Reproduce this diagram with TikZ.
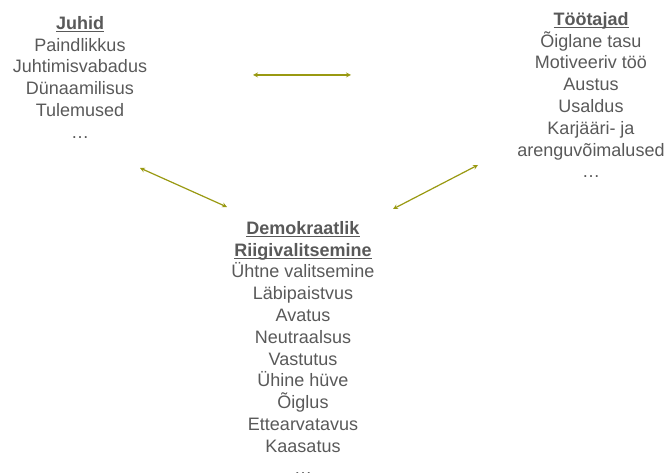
\documentclass[tikz,border=0pt]{standalone}
\usepackage{fontspec}
\setmainfont{Liberation Sans}
\usepackage{tikz}
\usetikzlibrary{arrows,positioning}
\definecolor{dgtext}{RGB}{89,89,89}
\definecolor{dgolive}{RGB}{153,153,17}
\newcommand{\grouptitle}[1]{\setbox0\hbox{\textbf{#1}}\rlap{\rule[-3.2pt]{\wd0}{1.3pt}}\box0}
\tikzstyle{group} = [align=center, inner sep=0pt, anchor=north, text=dgtext, font=\fontsize{18}{21.8}\selectfont]
\tikzstyle{link} = [line width=1.2pt,<->,>=stealth,color=dgolive]

\begin{document}
\begin{tikzpicture}[x=1pt,y=-1pt]
\useasboundingbox (0,0) rectangle (667,473);

% Juhid
\node (juhid) [group] at (80,16) {\grouptitle{Juhid}\\Paindlikkus\\Juhtimisvabadus\\Dünaamilisus\\Tulemused\\…};

% Töötajad
\node (tootajad) [group] at (591,12) {\grouptitle{Töötajad}\\Õiglane tasu\\Motiveeriv töö\\Austus\\Usaldus\\Karjääri- ja\\arenguvõimalused\\…};

% Demokraatlik riigivalitsemine
\node (riik) [group] at (303,221) {\grouptitle{Demokraatlik}\\\grouptitle{Riigivalitsemine}\\Ühtne valitsemine\\Läbipaistvus\\Avatus\\Neutraalsus\\Vastutus\\Ühine hüve\\Õiglus\\Ettearvatavus\\Kaasatus\\…};

% Arrow ends
\coordinate (jt-a) at (253,75);
\coordinate (jt-b) at (351,75);
\coordinate (jr-a) at (140,168);
\coordinate (jr-b) at (227,207);
\coordinate (tr-a) at (478,165);
\coordinate (tr-b) at (393,209);

% Arrows
\draw[link] (jt-a) -- (jt-b);
\draw[link] (jr-a) -- (jr-b);
\draw[link] (tr-a) -- (tr-b);
\end{tikzpicture}
\end{document}
